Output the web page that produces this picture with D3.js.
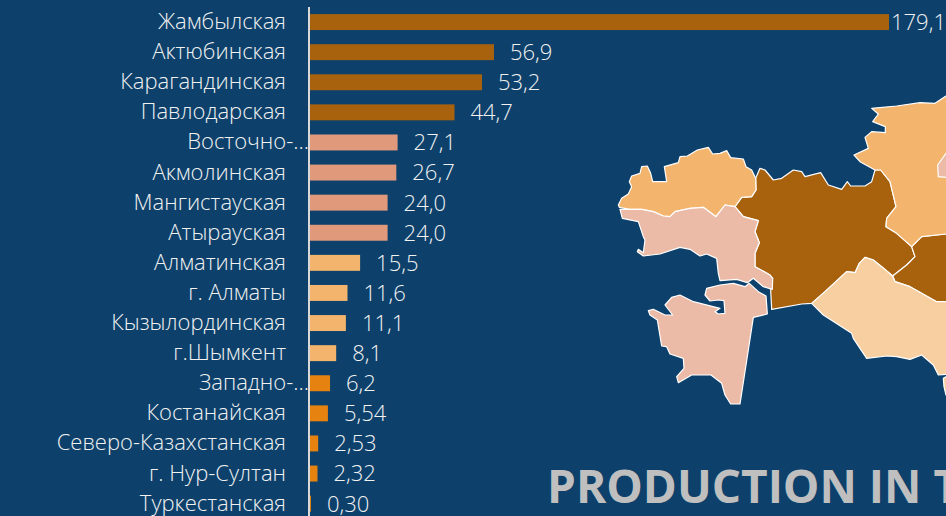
<!DOCTYPE html>
<html>
<head>
<meta charset="utf-8">
<script src="https://cdn.jsdelivr.net/npm/d3@7"></script>
<style>
  html, body { margin: 0; padding: 0; background: #0d416b; overflow: hidden; }
  text { font-family: "Open Sans", sans-serif; }
</style>
</head>
<body>
<div id="chart"></div>
<script>
//Define the dataset for this plot.
const regions = ["Жамбылская", "Актюбинская", "Карагандинская", "Павлодарская", "Восточно-…", "Акмолинская", "Мангистауская", "Атырауская", "Алматинская", "г. Алматы", "Кызылординская", "г.Шымкент", "Западно-…", "Костанайская", "Северо-Казахстанская", "г. Нур-Султан", "Туркестанская"];
const values = [179.1, 56.9, 53.2, 44.7, 27.1, 26.7, 24.0, 24.0, 15.5, 11.6, 11.1, 8.1, 6.2, 5.54, 2.53, 2.32, 0.30];
const valueLabels = ["179,1", "56,9", "53,2", "44,7", "27,1", "26,7", "24,0", "24,0", "15,5", "11,6", "11,1", "8,1", "6,2", "5,54", "2,53", "2,32", "0,30"];
const groups = [0, 0, 0, 0, 1, 1, 1, 1, 2, 2, 2, 2, 3, 3, 3, 3, 3];
const groupColors = ["#a8620d", "#e1997b", "#f3b56d", "#e6820f"];

//Map outlines, in map units.
const mapBrownWest = [[375,350],[395,322],[425,320],[438,300],[437,265],[450,235],[465,240],[490,270],[515,265],[550,240],[575,245],[585,260],[632,248],[655,285],[695,298],[712,275],[722,288],[765,288],[785,275],[795,240],[812,240],[840,275],[858,350],[830,385],[828,410],[860,430],[905,470],[915,500],[890,525],[848,558],[815,530],[790,510],[765,502],[748,520],[735,548],[710,545],[645,605],[605,640],[575,642],[485,658],[482,600],[488,565],[480,555],[435,530],[435,490],[448,458],[435,425],[445,392],[400,380]];
const mapBrownEast = [[905,470],[935,440],[1008,432],[1040,430],[1040,635],[1008,635],[980,635],[900,590],[855,575],[848,558],[890,525],[915,500]];
const mapOrangeNorth = [[785,55],[860,48],[930,38],[975,40],[1008,18],[1040,10],[1040,430],[1008,432],[935,440],[905,470],[860,430],[828,410],[830,385],[858,350],[840,275],[812,240],[795,240],[750,215],[732,195],[775,175],[765,142],[785,125],[826,128],[826,110],[788,95],[805,72]];
const mapOrangeWest = [[25,345],[35,325],[55,312],[65,290],[58,275],[65,258],[90,250],[95,230],[112,228],[122,250],[128,275],[170,275],[163,230],[205,218],[210,200],[232,198],[262,180],[295,172],[308,192],[330,190],[350,182],[362,203],[400,207],[408,230],[425,240],[437,265],[438,300],[425,320],[395,322],[375,350],[345,345],[318,380],[280,352],[240,355],[195,365],[180,380],[160,378],[130,365],[95,358],[60,358],[28,352]];
const mapPinkNorth = [[30,358],[60,358],[95,358],[130,365],[160,378],[180,380],[195,365],[240,355],[280,352],[318,380],[345,345],[375,350],[400,380],[445,392],[435,425],[448,458],[435,490],[435,530],[480,555],[488,565],[487,598],[460,590],[430,565],[412,578],[380,568],[330,572],[325,550],[320,505],[290,492],[270,498],[240,478],[210,472],[150,492],[100,498],[82,485],[85,478],[100,488],[105,450],[100,440],[85,395],[37,385]];
const mapPinkSouth = [[290,595],[330,585],[370,580],[405,590],[418,580],[445,605],[468,618],[472,672],[430,682],[415,780],[390,942],[362,942],[345,915],[335,880],[303,855],[245,855],[205,878],[200,860],[222,835],[220,805],[180,792],[170,770],[155,768],[142,690],[120,675],[115,662],[130,658],[165,675],[188,675],[165,645],[185,622],[210,615],[250,635],[330,655],[315,665],[325,672],[345,670],[342,632],[325,630],[300,633],[285,615]];
const mapPinkNotch = [[1040,150],[1008,190],[983,225],[985,260],[1008,262],[1040,262]];
const mapPaleSouth = [[605,640],[645,605],[710,545],[735,548],[748,520],[765,502],[790,510],[815,530],[848,558],[855,575],[900,590],[980,635],[1008,635],[1040,635],[1040,850],[985,855],[970,825],[935,795],[900,808],[860,800],[830,798],[770,805],[730,745],[725,730],[640,675]];
const mapPaleEdge = [[1040,850],[1008,860],[1000,865],[1002,890],[1008,915],[1040,930]];

const mapShapes = [
  { outline: mapBrownWest, color: "#a8620d" },
  { outline: mapBrownEast, color: "#a8620d" },
  { outline: mapOrangeNorth, color: "#f3b56d" },
  { outline: mapOrangeWest, color: "#f3b56d" },
  { outline: mapPinkNorth, color: "#ebbba7" },
  { outline: mapPinkSouth, color: "#ebbba7" },
  { outline: mapPinkNotch, color: "#ebbba7" },
  { outline: mapPaleSouth, color: "#f7cfa0" },
  { outline: mapPaleEdge, color: "#f7cfa0" }
];

//Set up the dimensions of the svg container.
const width = 946;
const height = 516;
const margin = { top: 7, left: 310 };

//Initialise the svg container.
const svg = d3.select("#chart")
  .append("svg")
  .attr("width", width)
  .attr("height", height)
  .style("display", "block");

//Set the x axis scale.
const xScale = d3.scaleLinear()
  .domain([0, 179.1])
  .range([margin.left, 889]);

//Set the y axis scale.
const yScale = d3.scaleBand()
  .domain(regions)
  .range([margin.top, margin.top + 30.1 * regions.length])
  .paddingInner(0.47)
  .paddingOuter(0.235);

//Scales for the map, one map unit is a third of a pixel.
const mapX = d3.scaleLinear().domain([0, 1008]).range([610, 946]);
const mapY = d3.scaleLinear().domain([0, 480]).range([90, 250]);
const mapLine = d3.line().x(d => mapX(d[0])).y(d => mapY(d[1])).curve(d3.curveLinearClosed);

//Draw the map.
svg.append("g")
  .selectAll("path")
  .data(mapShapes)
  .enter()
  .append("path")
  .attr("d", d => mapLine(d.outline))
  .attr("fill", d => d.color)
  .attr("stroke", "#ffffff")
  .attr("stroke-width", 1.2)
  .attr("stroke-linejoin", "round");

//Add the bars.
svg.append("g")
  .selectAll("rect")
  .data(regions)
  .enter()
  .append("rect")
  .attr("x", margin.left)
  .attr("y", d => yScale(d))
  .attr("width", (d, i) => xScale(values[i]) - margin.left)
  .attr("height", yScale.bandwidth())
  .attr("fill", (d, i) => groupColors[groups[i]]);

//Add the y axis, truncated labels run up to the axis line.
const yAxis = svg.append("g")
  .attr("transform", `translate(${margin.left - 1},0)`)
  .call(d3.axisLeft(yScale).tickSize(0).tickPadding(23));
yAxis.select(".domain")
  .attr("d", `M0,${margin.top}V${height}`)
  .attr("stroke", "#d9d9d9")
  .attr("stroke-width", 2);
yAxis.selectAll(".tick text")
  .attr("fill", "#f2f2f2")
  .attr("font-size", 22)
  .attr("font-weight", 300)
  .attr("font-family", '"Open Sans", sans-serif')
  .attr("x", d => d.endsWith("…") ? 0 : -23);

//Add the value labels.
svg.append("g")
  .selectAll("text")
  .data(regions)
  .enter()
  .append("text")
  .attr("x", (d, i) => xScale(values[i]) + (i === 0 ? 2 : 16))
  .attr("y", d => yScale(d) + yScale.bandwidth() / 2)
  .attr("dy", "0.36em")
  .attr("fill", "#f2f2f2")
  .attr("font-size", 22)
  .attr("font-weight", 300)
  .text((d, i) => valueLabels[i]);

//Add the title, it runs off the right edge.
svg.append("text")
  .attr("x", 547)
  .attr("y", 503)
  .attr("fill", "#bfbfbf")
  .attr("font-size", 46)
  .attr("font-weight", 700)
  .text("PRODUCTION IN THE");
</script>
</body>
</html>
